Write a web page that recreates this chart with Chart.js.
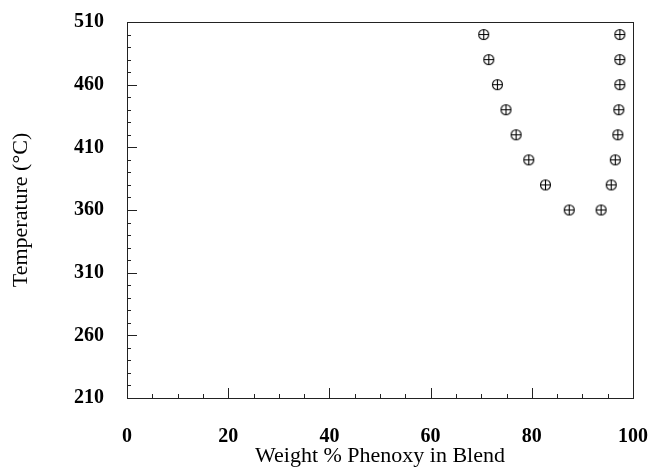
<!DOCTYPE html>
<html>
<head>
<meta charset="utf-8">
<script src="https://cdn.jsdelivr.net/npm/chart.js@4.4.0/dist/chart.umd.min.js"></script>
<style>
  body { margin: 0; background: #fff; }
  #chart { display: block; }
</style>
</head>
<body>
<canvas id="chart" width="654" height="469"></canvas>
<script>
// Weight % phenoxy (x) and temperature (y)
const leftPhenoxy  = [70.5, 71.5, 73.2, 74.9, 76.9, 79.4, 82.7, 87.4];
const rightPhenoxy = [97.4, 97.4, 97.4, 97.2, 97.0, 96.5, 95.7, 93.7];
const temperatures = [500, 480, 460, 440, 420, 400, 380, 360];

const xTicks = [0, 20, 40, 60, 80, 100];
const yTicks = [210, 260, 310, 360, 410, 460, 510];

// circle with a plus inside
function makeMarker() {
  const c = document.createElement('canvas');
  c.width = 13; c.height = 13;
  const g = c.getContext('2d');
  g.strokeStyle = '#000';
  g.lineWidth = 1.1;
  g.beginPath();
  g.arc(6.5, 6.5, 5, 0, Math.PI * 2);
  g.moveTo(6.5, 1.5); g.lineTo(6.5, 11.5);
  g.moveTo(1.5, 6.5); g.lineTo(11.5, 6.5);
  g.stroke();
  return c;
}
const marker = makeMarker();

const toPoints = (xs, ys) => xs.map((x, i) => ({ x: x, y: ys[i] }));

// frame and inward ticks
const framePlugin = {
  id: 'frame',
  afterDraw(chart) {
    const ctx = chart.ctx;
    const a = chart.chartArea;
    const xs = chart.scales.x, ys = chart.scales.y;
    ctx.save();
    ctx.strokeStyle = '#222';
    ctx.lineWidth = 1;
    ctx.strokeRect(a.left + 0.5, a.top + 0.5, a.right - a.left, a.bottom - a.top);
    ctx.beginPath();
    for (let v = 210; v <= 510; v += 10) {
      const y = Math.round(ys.getPixelForValue(v)) + 0.5;
      const len = (v - 210) % 50 === 0 ? 10 : 4;
      ctx.moveTo(a.left, y); ctx.lineTo(a.left + len, y);
    }
    for (let v = 0; v <= 100; v += 5) {
      const x = Math.round(xs.getPixelForValue(v)) + 0.5;
      const len = v % 20 === 0 ? 10 : 4;
      ctx.moveTo(x, a.bottom); ctx.lineTo(x, a.bottom - len);
    }
    ctx.stroke();
    ctx.restore();
  }
};

new Chart(document.getElementById('chart'), {
  type: 'scatter',
  data: {
    datasets: [
      { data: toPoints(leftPhenoxy, temperatures), pointStyle: marker },
      { data: toPoints(rightPhenoxy, temperatures), pointStyle: marker }
    ]
  },
  options: {
    responsive: false,
    animation: false,
    layout: { padding: { top: 22, right: 21, bottom: 0, left: 0 } },
    plugins: { legend: { display: false }, tooltip: { enabled: false } },
    scales: {
      x: {
        type: 'linear', min: 0, max: 100,
        afterBuildTicks: s => { s.ticks = xTicks.map(v => ({ value: v })); },
        afterFit: s => { s.height = 71; s.paddingLeft = 0; s.paddingRight = 0; },
        grid: { display: false, drawTicks: false },
        border: { display: false },
        ticks: { color: '#000', padding: 27, font: { family: 'Liberation Serif', size: 20, weight: 'bold' } },
        title: { display: true, text: 'Weight % Phenoxy in Blend', color: '#000', padding: { top: 0, bottom: 0 },
                 font: { family: 'Liberation Serif', size: 22 } }
      },
      y: {
        type: 'linear', min: 210, max: 510,
        afterBuildTicks: s => { s.ticks = yTicks.map(v => ({ value: v })); },
        afterFit: s => { s.width = 127; s.paddingTop = 0; s.paddingBottom = 0; },
        grid: { display: false, drawTicks: false },
        border: { display: false },
        ticks: { color: '#000', padding: 23, font: { family: 'Liberation Serif', size: 20, weight: 'bold' } },
        title: { display: true, text: 'Temperature (°C)', color: '#000', padding: { top: 8, bottom: 0 },
                 font: { family: 'Liberation Serif', size: 22 } }
      }
    }
  },
  plugins: [framePlugin]
});
</script>
</body>
</html>
